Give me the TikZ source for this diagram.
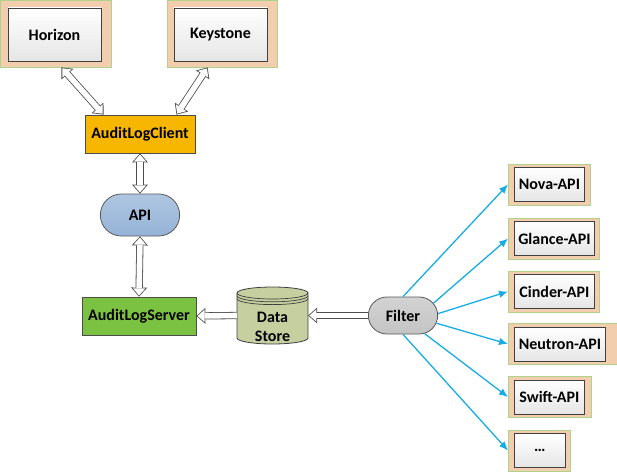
\documentclass[tikz,border=0pt]{standalone}
\usepackage{fontspec}
\setmainfont{Carlito}
\usetikzlibrary{arrows.meta,shapes.misc}
\definecolor{peach}{RGB}{242,206,174}
\definecolor{rimgreen}{RGB}{176,211,140}
\definecolor{clientorange}{RGB}{247,183,0}
\definecolor{apiblue}{RGB}{149,179,215}
\definecolor{servergreen}{RGB}{124,194,66}
\definecolor{storekhaki}{RGB}{198,207,160}
\definecolor{filtergray}{RGB}{196,196,196}
\definecolor{linkblue}{RGB}{24,172,228}
\begin{document}
\begin{tikzpicture}[x=1pt,y=-1pt,
  every node/.style={font=\fontsize{16}{19.5}\selectfont\bfseries},
  outerbox/.style={draw=rimgreen,fill=peach,line width=0.8pt,minimum height=#1},
  outerbox/.default=41pt,
  innerbox/.style={draw=black!75,top color=white,bottom color=black!10,line width=0.8pt,minimum height=#1},
  innerbox/.default=34pt,
  solidbox/.style={draw=black!70,fill=#1,line width=0.8pt,minimum height=38pt},
  capsule/.style={rounded rectangle,draw=black!65,top color=#1!75!white,bottom color=#1,line width=0.8pt},
  hollow/.style={line width=7.2pt,draw=black!70,-{Triangle[length=9pt,width=16pt,line width=0pt]},
    postaction={draw=white,line width=5.6pt,shorten >=1.2pt,-{Triangle[length=7pt,width=12.4pt,line width=0pt]}}},
  hollowboth/.style={line width=7.2pt,draw=black!70,
    {Triangle[length=9pt,width=16pt,line width=0pt]}-{Triangle[length=9pt,width=16pt,line width=0pt]},
    postaction={draw=white,line width=5.6pt,shorten >=1.2pt,shorten <=1.2pt,
      {Triangle[length=7pt,width=12.4pt,line width=0pt]}-{Triangle[length=7pt,width=12.4pt,line width=0pt]}}},
  bluearrow/.style={draw=linkblue,line width=1.3pt,-{Latex[length=9pt,width=7.5pt]}}]
\useasboundingbox (0,0) rectangle (617,473);
\node[outerbox=67pt,minimum width=111pt] (horizon-o) at (55.5,33.5) {};
\node[innerbox=53pt,minimum width=93pt] (horizon) at (54.5,34.5) {Horizon};
\node[outerbox=67pt,minimum width=110pt] (keystone-o) at (222,33.5) {};
\node[innerbox=53pt,minimum width=93pt] (keystone) at (220.5,34.5) {Keystone};
\node[solidbox=clientorange,minimum width=110pt] (client) at (140,134) {AuditLogClient};
\node[capsule=apiblue,minimum width=86pt,minimum height=42pt] (api) at (140,215) {API};
\node[solidbox=servergreen,minimum width=114pt] (server) at (139,316) {AuditLogServer};
\node[capsule=filtergray,minimum width=76pt,minimum height=37pt] (filter) at (403,315.5) {Filter};
\node[minimum width=71pt,minimum height=57pt] (store) at (272.5,315.5) {};
\filldraw[draw=black!75,fill=storekhaki,line width=0.8pt] (237,293) -- (237,338) arc (180:0:35.5 and 6) -- (308,293) arc (0:-180:35.5 and 6) -- cycle;
\foreach \d in {0,2.8,5.6}
  \draw[black!75,line width=0.7pt] (237,293+\d) arc (180:0:35.5 and 6);
\node[align=center] at (272.5,327) {Data\\Store};
\foreach \nm/\yc/\iw/\ow/\txt in {nova/184.5/70/82/Nova-API,glance/238.5/80/91/Glance-API,
    cinder/291.5/80/91/Cinder-API,neutron/344/91/109/Neutron-API,swift/397/70/83/Swift-API,more/450.5/51/62/…}
{
  \node[outerbox,anchor=west,minimum width=\ow pt] (\nm-o) at (508,\yc) {};
  \node[innerbox,anchor=west,minimum width=\iw pt] (\nm) at (514,\yc) {\txt};
}
\foreach \nm/\a in {nova/90,glance/22,cinder/3,neutron/-13,swift/-40,more/-90}
  \draw[bluearrow] (filter.\a) -- (\nm-o.west);
\draw[hollowboth] (horizon-o.-80) -- (client.152);
\draw[hollowboth] (keystone-o.-113) -- (client.28);
\draw[hollowboth] (client.south) -- (api.north);
\draw[hollowboth] (api.south) -- (server.north);
\draw[hollow] (store.west) -- (server.east);
\draw[hollow] (filter.west) -- (store.east);
\end{tikzpicture}
\end{document}
